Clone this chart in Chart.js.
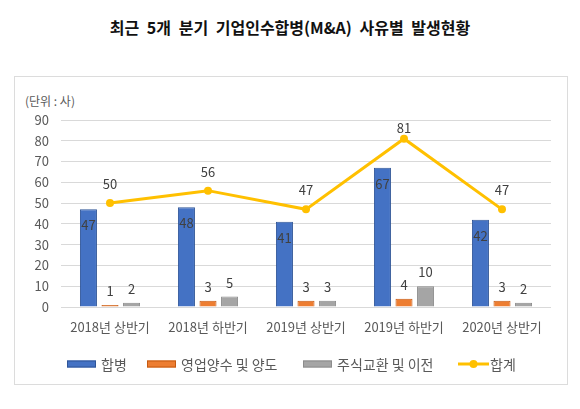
<!DOCTYPE html>
<html>
<head>
<meta charset="utf-8">
<script src="https://cdn.jsdelivr.net/npm/chart.js@4.4.1/dist/chart.umd.min.js"></script>
<style>
  html, body { margin: 0; padding: 0; background: #fff; }
  #wrap { position: relative; width: 580px; height: 409px; overflow: hidden; font-family: "Noto Sans CJK KR", "Noto Sans", sans-serif; }
  #title { position: absolute; left: 0; top: 16px; width: 580px; text-align: center; font-size: 16px; font-weight: bold; color: #111; line-height: 22px; word-spacing: 4px; }
  #box { position: absolute; left: 14px; top: 76px; width: 554px; height: 309px; border: 1px solid #dcdcdc; box-sizing: border-box; }
  #unit { position: absolute; left: 25px; top: 92px; font-size: 12px; color: #595959; line-height: 18px; }
  canvas { position: absolute; left: 0; top: 0; }
</style>
</head>
<body>
<div id="wrap">
  <div id="title">최근 5개 분기 기업인수합병(M&amp;A) 사유별 발생현황</div>
  <div id="box"></div>
  <div id="unit">(단위 : 사)</div>
  <canvas id="c" width="580" height="409"></canvas>
</div>
<script>
const categories = ['2018년 상반기', '2018년 하반기', '2019년 상반기', '2019년 하반기', '2020년 상반기'];
const mergers = [47, 48, 41, 67, 42];
const businessTransfer = [1, 3, 3, 4, 3];
const stockExchange = [2, 5, 3, 10, 2];
const totals = [50, 56, 47, 81, 47];
const seriesNames = ['합병', '영업양수 및 양도', '주식교환 및 이전', '합계'];

const FONT = '"Noto Sans CJK KR", "Noto Sans", sans-serif';
const LABEL_COLOR = '#404040';

const labelPlugin = {
  id: 'valueLabels',
  afterDatasetsDraw(chart) {
    const ctx = chart.ctx;
    const top = chart.chartArea.top;
    ctx.save();
    ctx.font = '13px ' + FONT;
    ctx.fillStyle = LABEL_COLOR;
    ctx.textAlign = 'center';
    ctx.textBaseline = 'middle';
    chart.data.datasets.forEach((ds, i) => {
      const meta = chart.getDatasetMeta(i);
      meta.data.forEach((el, j) => {
        const v = ds.data[j];
        let y;
        if (i === 0) y = el.y + 16;
        else if (ds.type === 'line') y = Math.max(el.y - 19, top + 8);
        else y = el.y - 14;
        ctx.fillText(String(v), el.x, y);
      });
    });
    ctx.restore();
  }
};

const legendPlugin = {
  id: 'customLegend',
  afterDraw(chart) {
    const ctx = chart.ctx;
    ctx.save();
    ctx.font = '14px ' + FONT;
    ctx.textBaseline = 'middle';
    ctx.textAlign = 'left';
    const boxW = 29, boxH = 7;
    const starts = [67, 147, 303, 458];
    const y = 364;
    chart.data.datasets.forEach((ds, i) => {
      const x = starts[i];
      let gap = 5;
      if (ds.type === 'line') {
        ctx.strokeStyle = ds.borderColor;
        ctx.lineWidth = 3;
        ctx.beginPath();
        ctx.moveTo(x, y);
        ctx.lineTo(x + boxW + 2, y);
        ctx.stroke();
        ctx.fillStyle = ds.borderColor;
        ctx.beginPath();
        ctx.arc(x + (boxW + 2) / 2, y, 4, 0, Math.PI * 2);
        ctx.fill();
        gap = 3;
      } else {
        ctx.fillStyle = ds.backgroundColor;
        ctx.fillRect(x, y - boxH / 2, boxW, boxH);
        ctx.strokeStyle = ds.borderColor;
        ctx.lineWidth = 1;
        ctx.strokeRect(x + 0.5, y - boxH / 2 + 0.5, boxW - 1, boxH - 1);
      }
      ctx.fillStyle = '#595959';
      ctx.fillText(ds.label, x + boxW + gap, y + 1);
    });
    ctx.restore();
  }
};

new Chart(document.getElementById('c'), {
  data: {
    labels: categories,
    datasets: [
      { type: 'bar', label: seriesNames[0], data: mergers, backgroundColor: '#4472C4', borderColor: '#2F5597', borderWidth: 1, order: 2 },
      { type: 'bar', label: seriesNames[1], data: businessTransfer, backgroundColor: '#ED7D31', borderColor: '#C55A11', borderWidth: 1, order: 2 },
      { type: 'bar', label: seriesNames[2], data: stockExchange, backgroundColor: '#A5A5A5', borderColor: '#8C8C8C', borderWidth: 1, order: 2 },
      { type: 'line', label: seriesNames[3], data: totals, borderColor: '#FFC000', backgroundColor: '#FFC000', borderWidth: 3, pointRadius: 4, pointBackgroundColor: '#FFC000', pointBorderColor: '#FFC000', pointBorderWidth: 0, tension: 0, fill: false, order: 1 }
    ]
  },
  options: {
    responsive: false,
    animation: false,
    devicePixelRatio: 1,
    categoryPercentage: 0.66,
    barPercentage: 0.79,
    layout: { padding: { left: 0, right: 29, top: 120, bottom: 72 } },
    plugins: { legend: { display: false }, title: { display: false }, tooltip: { enabled: false } },
    scales: {
      x: {
        grid: { display: false, drawTicks: false },
        border: { display: false },
        ticks: { color: '#595959', font: { size: 13, family: FONT }, padding: 12, maxRotation: 0, autoSkip: false },
        afterFit(s) { s.height = 30; }
      },
      y: {
        min: 0, max: 90,
        grid: { color: '#d9d9d9', lineWidth: 1, drawTicks: false },
        border: { display: false },
        ticks: { stepSize: 10, color: '#595959', font: { size: 13, family: FONT }, padding: 12 },
        afterFit(s) { s.width = 61; }
      }
    }
  },
  plugins: [labelPlugin, legendPlugin]
});
</script>
</body>
</html>
